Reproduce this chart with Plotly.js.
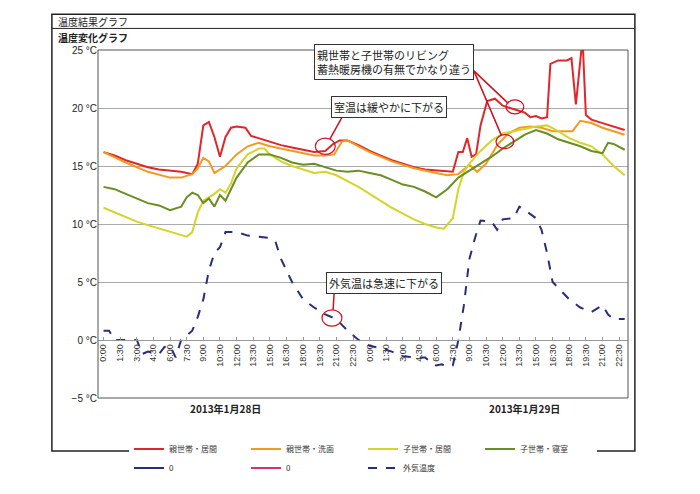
<!DOCTYPE html>
<html>
<head>
<meta charset="utf-8">
<script src="https://cdn.plot.ly/plotly-3.0.1.min.js"></script>
<style>body{margin:0;background:#fff}#chart{width:700px;height:494px}</style>
</head>
<body>
<div id="chart"></div>
<script>
// hours from 2013-01-28 0:00
var redH = [0,1,2,3,4,5,6,7,8,8.5,9,9.5,10,10.5,11,11.5,12,12.8,13.3,14,15,16,17,18,19,20,20.7,21.3,22,23,24,25,26,27,28,29,30,31,31.5,32,32.4,32.8,33.2,33.6,34,34.6,35.3,36,37,38,38.5,39,39.5,40,40.3,41,41.8,42.2,42.6,43,43.2,43.5,44,45,46,47];
var redT = [16.2,15.9,15.5,15.2,14.9,14.7,14.6,14.5,14.3,15.2,18.5,18.8,17.5,15.8,17.5,18.3,18.4,18.3,17.6,17.4,17.1,16.8,16.6,16.4,16.2,16.3,16.9,17.2,17.2,16.8,16.3,15.9,15.5,15.2,14.9,14.7,14.6,14.5,14.5,16.2,16.2,17.4,15.8,16.0,18.5,20.6,20.8,20.2,19.9,19.6,19.2,19.3,19.1,19.2,23.8,24.1,24.1,24.3,20.3,24.5,26,19.4,19.0,18.7,18.4,18.1];

var orangeH = [0,2,4,6,7,8,8.5,9,9.5,10,11,12,13,14,15,16,17,18,19,20,20.8,21.5,22,23,24,26,28,30,31,32,33,33.7,34.5,35.5,36.5,37.5,38.5,39.5,40.5,41.5,42.3,43,44,45,46,47];
var orangeT = [16.2,15.3,14.5,14.0,14.0,14.3,14.8,15.7,15.4,14.4,15.0,16.0,16.7,17.0,16.7,16.5,16.3,16.1,15.9,15.9,16.0,17.1,17.2,16.7,16.2,15.4,14.8,14.4,14.2,14.3,15.1,14.5,15.2,16.8,17.8,18.3,18.4,18.3,18.0,18.0,18.0,18.9,18.7,18.3,18.0,17.7];

var yellowH = [0,1,2,3,4,5,6,7,7.5,8,8.5,9,10,10.5,11,11.5,12,13,14,14.5,15,16,17,18,19,20,21,22,23,24,25,26,27,28,29,30,30.7,31.5,32,32.5,33,34,35,36,37,38,39,40,41,42,43,44,45,46,47];
var yellowT = [11.4,11.0,10.6,10.2,9.9,9.6,9.3,9.0,8.9,9.3,11.0,12.0,12.6,13.0,12.7,13.5,14.8,16.0,16.5,16.5,16.0,15.4,15.0,14.7,14.4,14.5,14.2,13.7,13.2,12.6,12.0,11.4,10.9,10.4,10.0,9.7,9.6,10.5,13.0,14.5,15.2,16.3,17.2,17.8,18.0,18.2,18.4,18.5,18.0,17.4,17.0,16.7,16.0,15.0,14.2];

var greenH = [0,1,2,3,4,5,6,7,7.5,8,8.5,9,9.5,10,10.5,11,11.5,12,13,14,15,16,17,18,19,20,21,22,23,24,25,26,27,28,29,30,31,32,33,34,35,36,37,38,39,40,41,42,43,44,45,45.5,46,47];
var greenT = [13.2,13.0,12.6,12.2,11.8,11.6,11.2,11.5,12.3,12.7,12.5,11.8,12.2,11.5,12.5,12.0,13.0,14.0,15.3,16.0,16.0,15.7,15.3,15.1,15.2,14.9,14.6,14.5,14.6,14.4,14.2,13.8,13.4,13.2,12.8,12.3,13.0,14.0,14.6,15.2,15.8,16.5,17.1,17.7,18.1,17.8,17.3,17.0,16.7,16.3,16.1,17.0,16.9,16.4];

var outH = [0,0.5,1,2,3,3.5,4,5,5.5,6,6.5,7,8,8.5,9,9.5,10,10.5,11,12,13,14,15,15.5,16,17,18,19,20,21,22,23,24,25,26,27,28,29,29.5,30,30.5,31,31.5,32,32.5,33,33.5,34,35,35.5,36,37,37.5,38,39,39.5,40,40.5,41,42,43,44,45,45.5,46,47];
var outT = [0.8,0.8,0,0,0,-1.2,-1.0,-1.2,-0.6,-0.5,-1.5,0,0.8,2,3.5,6,7.5,8,9.3,9.3,9,8.9,8.8,8.5,7,5,3.5,2.8,2.2,1.8,0.8,0,-0.5,-0.7,-1.0,-1.4,-1.5,-1.5,-1.9,-2.2,-2.1,-2.3,-2.2,0,3,7,8.8,10.3,10.2,9.5,10.4,10.5,11.5,11.2,10.5,9.5,7.5,5,4.5,3.5,2.8,2.4,3.0,2.2,1.8,1.8];

var tickLabels = ['0:00','1:30','3:00','4:30','6:00','7:30','9:00','10:30','12:00','13:30','15:00','16:30','18:00','19:30','21:00','22:30'];
var tickVals = [], tickText = [];
for (var d = 0; d < 2; d++) tickLabels.forEach(function (t, i) { tickVals.push(d * 24 + i * 1.5); tickText.push(t); });

var F = 'Noto Sans CJK JP, sans-serif';
function line(name, x, y, color, dash) {
  return {type: 'scatter', mode: 'lines', name: name, x: x, y: y,
    line: {color: color, width: 2, dash: dash || 'solid'}};
}
var data = [
  line('親世帯・居間', redH, redT, '#e0262a'),
  line('親世帯・洗面', orangeH, orangeT, '#f39a1e'),
  line('子世帯・居間', yellowH, yellowT, '#d4d42a'),
  line('子世帯・寝室', greenH, greenT, '#6b8e23'),
  line('0', [0], [null], '#2a2e7a'),
  line('0', [0], [null], '#d6336c'),
  line('外気温度', outH, outT, '#2a2e7a', 'dash')
];

var red = '#d01020';
function circ(cx, cy, rx, ry) {
  return {type: 'circle', xref: 'x', yref: 'y', x0: cx - rx, x1: cx + rx, y0: cy - ry, y1: cy + ry, line: {color: red, width: 1.2}};
}
function seg(x0, y0, x1, y1) {
  return {type: 'line', xref: 'x', yref: 'y', x0: x0, y0: y0, x1: x1, y1: y1, line: {color: red, width: 1.5}};
}
function box(text, x, y) {
  return {text: text, x: x, y: y, xref: 'x', yref: 'y', showarrow: false, align: 'left',
    bgcolor: '#fff', bordercolor: '#333', borderwidth: 1, borderpad: 2,
    font: {family: F, size: 11, color: '#222'}};
}

var layout = {
  width: 700, height: 494,
  margin: {l: 98, r: 72, t: 50, b: 75},
  paper_bgcolor: '#fff', plot_bgcolor: '#fff',
  showlegend: true,
  legend: {orientation: 'h', x: 0.5, xanchor: 'center', y: -0.105, yanchor: 'top',
    font: {family: F, size: 8, color: '#333'}, entrywidth: 72, itemwidth: 30},
  xaxis: {range: [-0.5, 47.3], tickvals: tickVals, ticktext: tickText, tickangle: -90,
    anchor: 'free', position: 0.168, showgrid: false, zeroline: false, automargin: false,
    showline: true, linecolor: '#999', ticks: 'inside', ticklen: 3, tickcolor: '#999',
    tickfont: {family: 'Liberation Sans, sans-serif', size: 9, color: '#333'}},
  yaxis: {range: [-5, 25], dtick: 5, ticksuffix: ' °C', showgrid: true, gridcolor: '#aaa', automargin: false,
    zeroline: false, tickfont: {family: 'Liberation Sans, sans-serif', size: 10, color: '#222'}},
  shapes: [
    {type: 'rect', xref: 'paper', yref: 'paper', x0: 0, x1: 1, y0: 0, y1: 1, line: {color: '#555', width: 1}},
    {type: 'rect', xref: 'paper', yref: 'paper', x0: -0.087, x1: 1.013, y0: -0.152, y1: 1.103, line: {color: '#222', width: 1.5}},
    {type: 'line', xref: 'paper', yref: 'paper', x0: -0.087, x1: 1.013, y0: 1.062, y1: 1.062, line: {color: '#222', width: 1}},
    circ(20, 16.7, 0.9, 0.7), circ(37.1, 20.1, 0.8, 0.6), circ(36.2, 17.1, 0.8, 0.6), circ(20.6, 1.9, 0.9, 0.7),
    seg(21.5, 19.2, 20.4, 17.3),
    seg(33.4, 23.2, 36.5, 20.4), seg(33.4, 23.2, 35.9, 17.6),
    seg(20.8, 4.1, 20.7, 2.6)
  ],
  annotations: [
    {text: '温度結果グラフ', xref: 'paper', yref: 'paper', x: -0.08, y: 1.083, xanchor: 'left', yanchor: 'middle',
      showarrow: false, font: {family: F, size: 10, color: '#222'}},
    {text: '<b>温度変化グラフ</b>', xref: 'paper', yref: 'paper', x: -0.08, y: 1.037, xanchor: 'left', yanchor: 'middle',
      showarrow: false, font: {family: F, size: 10, color: '#222'}},
    {text: '<b>2013年1月28日</b>', xref: 'x', yref: 'paper', x: 11, y: -0.058, showarrow: false,
      font: {family: F, size: 10, color: '#222'}},
    {text: '<b>2013年1月29日</b>', xref: 'x', yref: 'paper', x: 38, y: -0.058, showarrow: false,
      font: {family: F, size: 10, color: '#222'}},
    box('親世帯と子世帯のリビング<br>蓄熱暖房機の有無でかなり違う', 26.2, 24.0),
    box('室温は緩やかに下がる', 25.7, 20.1),
    box('外気温は急速に下がる', 25.3, 4.9)
  ]
};

Plotly.newPlot('chart', data, layout, {staticPlot: true});
</script>
</body>
</html>
